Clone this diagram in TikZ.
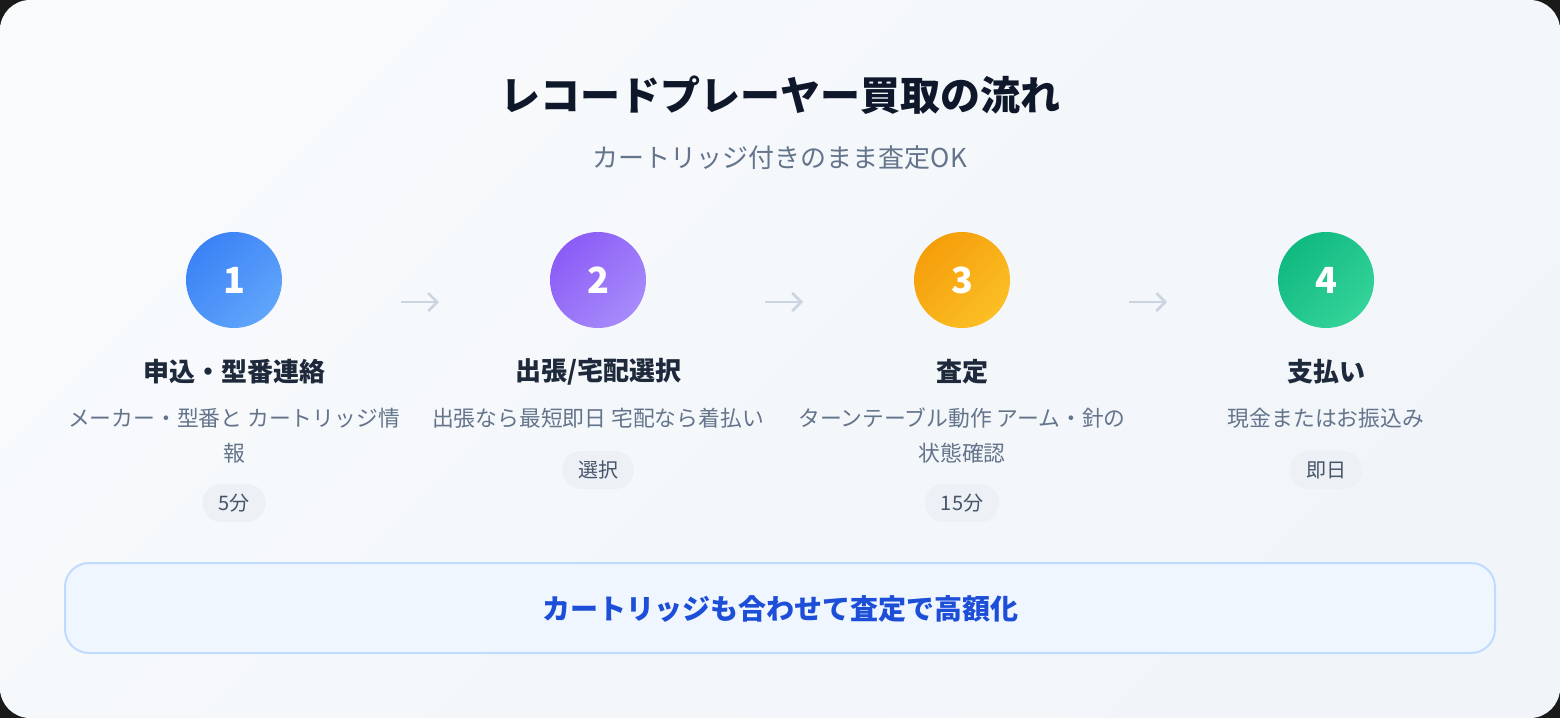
\documentclass[tikz,border=0pt]{standalone}
\usepackage{fontspec}
\setmainfont{Noto Sans CJK JP}
\usetikzlibrary{arrows.meta}
\definecolor{outerbg}{HTML}{1A1A1A}
\definecolor{bgA}{HTML}{F8FAFC}
\definecolor{bgB}{HTML}{F1F5F9}
\definecolor{titlec}{HTML}{0F172A}
\definecolor{subc}{HTML}{64748B}
\definecolor{headc}{HTML}{1E293B}
\definecolor{descc}{HTML}{64748B}
\definecolor{pillfill}{HTML}{EDF1F6}
\definecolor{pilltext}{HTML}{475569}
\definecolor{arrowc}{HTML}{CBD5E1}
\definecolor{boxfill}{HTML}{EFF6FF}
\definecolor{boxline}{HTML}{BFDBFE}
\definecolor{boxtext}{HTML}{1D4ED8}
\definecolor{blueA}{HTML}{3B82F6}\definecolor{blueB}{HTML}{60A5FA}
\definecolor{purA}{HTML}{8B5CF6}\definecolor{purB}{HTML}{A78BFA}
\definecolor{orA}{HTML}{F59E0B}\definecolor{orB}{HTML}{FBBF24}
\definecolor{grA}{HTML}{10B981}\definecolor{grB}{HTML}{34D399}
\tikzset{
  stepcircle/.style 2 args={circle, minimum size=96pt, inner sep=0pt,
    top color=#1, bottom color=#2, shading angle=45,
    text=white, font=\fontsize{36}{36}\selectfont\bfseries},
  headtext/.style={text=headc, font=\fontsize{26}{30}\selectfont\bfseries, inner sep=0pt},
  desctext/.style={text=descc, font=\fontsize{21.8}{35}\selectfont, align=center, inner sep=0pt},
  pill/.style={fill=pillfill, rounded corners=19pt, minimum height=38pt, inner xsep=16pt,
    text=pilltext, font=\fontsize{20}{20}\selectfont},
  flowarrow/.style={draw=arrowc, line width=2.5pt, -{Straight Barb[length=9pt,width=18pt,line width=2.5pt]}},
}
\begin{document}
\begin{tikzpicture}[x=1pt,y=-1pt]
\useasboundingbox (0,0) rectangle (1560,718);
\fill[outerbg] (0,0) rectangle (1560,718);
\shade[rounded corners=30pt, top color=bgA, bottom color=bgB, shading angle=45] (0,0) rectangle (1560,718);

\node[text=titlec, font=\fontsize{40}{40}\selectfont\bfseries] (title) at (780,95) {レコードプレーヤー買取の流れ};
\node[text=subc, font=\fontsize{26}{26}\selectfont] (subtitle) at (780,158) {カートリッジ付きのまま査定OK};

\node[stepcircle={blueA}{blueB}] (c1) at (234,280) {1};
\node[stepcircle={purA}{purB}] (c2) at (598,280) {2};
\node[stepcircle={orA}{orB}] (c3) at (962,280) {3};
\node[stepcircle={grA}{grB}] (c4) at (1326,280) {4};

\coordinate (a1s) at (401,302); \coordinate (a1e) at (439,302);
\coordinate (a2s) at (765,302); \coordinate (a2e) at (803,302);
\coordinate (a3s) at (1129,302); \coordinate (a3e) at (1167,302);
\draw[flowarrow] (a1s) -- (a1e);
\draw[flowarrow] (a2s) -- (a2e);
\draw[flowarrow] (a3s) -- (a3e);

\node[headtext] (h1) at (234,372) {申込・型番連絡};
\node[headtext] (h2) at (598,372) {出張/宅配選択};
\node[headtext] (h3) at (962,372) {査定};
\node[headtext] (h4) at (1326,372) {支払い};

\node[desctext, anchor=north] (d1) at (234,408) {メーカー・型番と カートリッジ情\\報};
\node[desctext, anchor=north] (d2) at (598,408) {出張なら最短即日 宅配なら着払い};
\node[desctext, anchor=north] (d3) at (962,408) {ターンテーブル動作 アーム・針の\\状態確認};
\node[desctext, anchor=north] (d4) at (1326,408) {現金またはお振込み};

\node[pill] (p1) at (234,503) {5分};
\node[pill] (p2) at (598,470) {選択};
\node[pill] (p3) at (962,503) {15分};
\node[pill] (p4) at (1326,470) {即日};

\draw[fill=boxfill, draw=boxline, line width=2pt, rounded corners=24pt] (65,563) rectangle (1495,653);
\node[text=boxtext, font=\fontsize{28}{28}\selectfont\bfseries] (note) at (780,609) {カートリッジも合わせて査定で高額化};
\end{tikzpicture}
\end{document}
